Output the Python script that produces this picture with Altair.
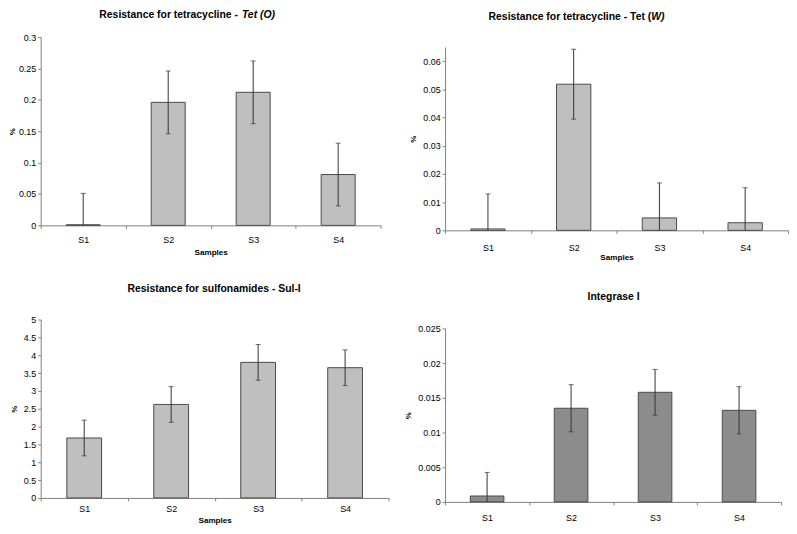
import altair as alt
import pandas as pd

FONT = "Liberation Sans"

samples = ["S1", "S2", "S3", "S4"]

teto_mean = [0.001, 0.196, 0.212, 0.081]
teto_err = [0.050, 0.050, 0.050, 0.050]

tetw_mean = [0.0005, 0.0518, 0.0044, 0.0027]
tetw_err = [0.0124, 0.0124, 0.0124, 0.0124]

sul_mean = [1.68, 2.62, 3.80, 3.65]
sul_err = [0.50, 0.50, 0.50, 0.50]

int_mean = [0.00085, 0.0135, 0.0158, 0.0132]
int_err = [0.0034, 0.0034, 0.0033, 0.0034]

teto_ticks = [0, 0.05, 0.1, 0.15, 0.2, 0.25, 0.3]
tetw_ticks = [0, 0.01, 0.02, 0.03, 0.04, 0.05, 0.06]
sul_ticks = [0, 0.5, 1, 1.5, 2, 2.5, 3, 3.5, 4, 4.5, 5]
int_ticks = [0, 0.005, 0.01, 0.015, 0.02, 0.025]


def make_df(means, errs):
    return pd.DataFrame({
        "cat": samples,
        "val": means,
        "lo": [max(0.0, m - e) for m, e in zip(means, errs)],
        "hi": [m + e for m, e in zip(means, errs)],
    })


def panel(means, errs, ymax, ticks, w, h, top_off, fill, title_parts, title_y,
          xtitle, xlabel_pad, xtitle_pad, ytitle_pad):
    df = make_df(means, errs)
    xaxis = alt.Axis(
        labelAngle=0, tickBand="extent", tickSize=3, labelPadding=xlabel_pad,
        titlePadding=xtitle_pad, labelFont=FONT, labelFontSize=9,
        labelColor="#000000", titleFont=FONT, titleFontSize=8.2,
        titleFontWeight="bold", titleColor="#000000", domainColor="#808080",
        tickColor="#808080", grid=False,
    )
    xscale = alt.Scale(paddingInner=0, paddingOuter=0)
    yaxis = alt.Axis(
        values=ticks, format="~g", grid=False, tickSize=3, labelPadding=2,
        labelOverlap=False, labelFont=FONT, labelFontSize=9,
        labelColor="#000000", titleFont=FONT, titleFontSize=8,
        titleFontWeight="bold", titleColor="#000000",
        titlePadding=ytitle_pad, domainColor="#808080", tickColor="#808080",
    )
    yscale = alt.Scale(domain=[0, ymax], range=[h, top_off], nice=False,
                       zero=True)

    def X():
        return alt.X("cat:N", sort=samples, title=xtitle, scale=xscale,
                     axis=xaxis)

    def Y(field):
        return alt.Y(field, title="%", axis=yaxis, scale=yscale)

    base = alt.Chart(df)
    bars = base.mark_bar(
        width=alt.RelativeBandSize(0.4), color=fill, stroke="#4a4a4a",
        strokeWidth=1,
    ).encode(x=X(), y=Y("val:Q"))
    rules = base.mark_rule(color="#333333", strokeWidth=1).encode(
        x=X(), y=Y("lo:Q"), y2="hi:Q")
    caps_hi = base.mark_tick(color="#333333", size=5, thickness=1).encode(
        x=X(), y=Y("hi:Q"))
    caps_lo = base.mark_tick(color="#333333", size=5, thickness=1).encode(
        x=X(), y=Y("lo:Q")).transform_filter("datum.lo > 0")

    layers = [bars, rules, caps_hi, caps_lo]
    one = pd.DataFrame({"k": [0]})
    for text, xpos, align, style in title_parts:
        layers.append(
            alt.Chart(one).mark_text(
                text=text, align=align, baseline="middle", font=FONT,
                fontSize=10.5, fontWeight="bold", fontStyle=style,
                color="#000000",
            ).encode(x=alt.value(xpos), y=alt.value(title_y))
        )
    return alt.layer(*layers).properties(width=w, height=h)


p1 = panel(teto_mean, teto_err, 0.3, teto_ticks, 343, 190, 0, "#bfbfbf",
           [("Resistance for tetracycline -", 199, "right", "normal"),
            ("Tet (O)", 203, "left", "italic")],
           -22, "Samples", 7, 4, 2)
p2 = panel(tetw_mean, tetw_err, 0.065, tetw_ticks, 346, 195, 10, "#bfbfbf",
           [("Resistance for tetracycline - Tet (", 208, "right", "normal"),
            ("W)", 208, "left", "italic")],
           -20, "Samples", 10, 1, 5)
p3 = panel(sul_mean, sul_err, 5, sul_ticks, 351, 180, 0, "#bfbfbf",
           [("Resistance for sulfonamides - Sul-I", 175, "center", "normal")],
           -31, "Samples", 4, 3, 5)
p4 = panel(int_mean, int_err, 0.025, int_ticks, 339, 184, 9, "#8c8c8c",
           [("Integrase I", 170, "center", "normal")],
           -23, None, 9, 4, 5)

chart = alt.concat(p1, p2, p3, p4, columns=2,
                   spacing=alt.RowColnumber(row=23, column=15)).properties(
    padding=0, background="#ffffff"
).configure_view(stroke=None)

chart.save("out.html", embed_options={"renderer": "svg", "actions": False})
